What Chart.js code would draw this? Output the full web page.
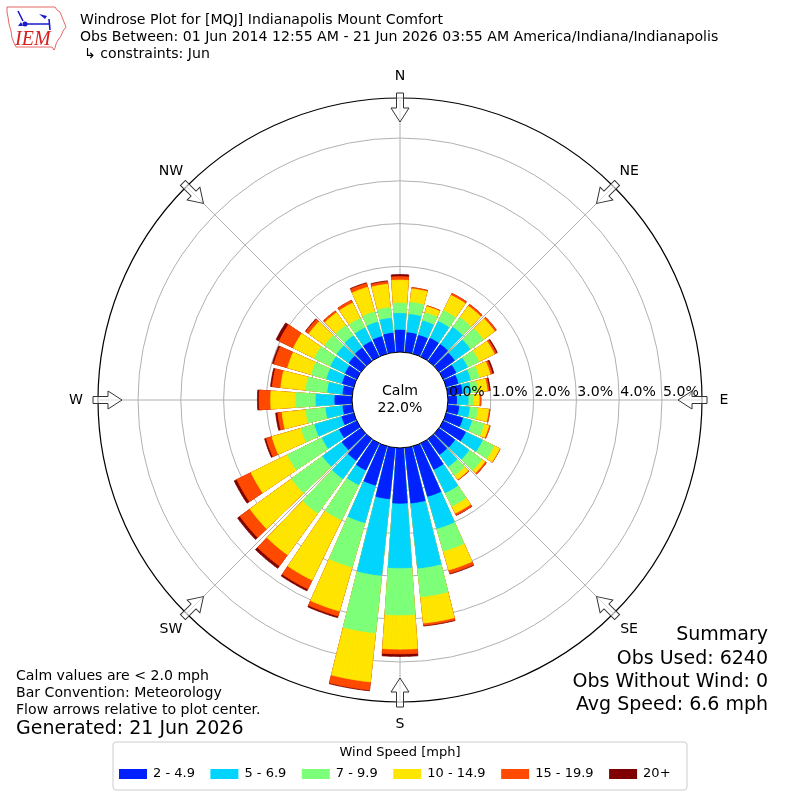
<!DOCTYPE html>
<html>
<head>
<meta charset="utf-8">
<title>Windrose MQJ</title>
<script src="https://cdn.jsdelivr.net/npm/chart.js@4.4.1/dist/chart.umd.min.js"></script>
<style>
  html, body { margin: 0; padding: 0; background: #ffffff; }
  #wrap { width: 800px; height: 800px; }
</style>
</head>
<body>
<div id="wrap"><canvas id="rose" width="800" height="800"></canvas></div>
<script>
// Direction bins (degrees clockwise from north), each bar covers +-4 deg
const directions = [0, 10, 20, 30, 40, 50, 60, 70, 80, 90, 100, 110, 120, 130, 140, 150, 160, 170,
  180, 190, 200, 210, 220, 230, 240, 250, 260, 270, 280, 290, 300, 310, 320, 330, 340, 350];

const speedLabels = ["2 - 4.9", "5 - 6.9", "7 - 9.9", "10 - 14.9", "15 - 19.9", "20+"];
const speedColors = ["#0020ff", "#00d4ff", "#7cff79", "#ffe600", "#ff4a00", "#7f0000"];

// percent of all observations, per direction, for each speed bin
const spd2to5 = [0.51, 0.46, 0.45, 0.48, 0.48, 0.45, 0.33, 0.29, 0.34, 0.20, 0.26, 0.40,
  0.58, 0.46, 0.45, 0.68, 1.22, 1.30, 1.29, 1.20, 0.95, 0.70, 0.62, 0.55,
  0.45, 0.29, 0.22, 0.40, 0.22, 0.28, 0.30, 0.35, 0.38, 0.40, 0.42, 0.45];
const spd5to7 = [0.39, 0.43, 0.35, 0.44, 0.50, 0.45, 0.30, 0.30, 0.20, 0.27, 0.25, 0.22,
  0.44, 0.41, 0.35, 0.61, 0.78, 1.53, 1.51, 1.80, 0.91, 0.38, 0.53, 0.56,
  0.45, 0.66, 0.40, 0.44, 0.36, 0.38, 0.38, 0.35, 0.35, 0.35, 0.35, 0.35];
const spd7to10 = [0.24, 0.28, 0.20, 0.28, 0.28, 0.38, 0.30, 0.21, 0.16, 0.12, 0.19, 0.30,
  0.30, 0.37, 0.25, 0.35, 0.55, 0.67, 1.10, 1.35, 1.08, 0.92, 1.00, 0.90,
  0.90, 0.33, 0.47, 0.47, 0.51, 0.37, 0.42, 0.35, 0.30, 0.25, 0.25, 0.25];
const spd10to15 = [0.54, 0.32, 0.15, 0.40, 0.33, 0.33, 0.40, 0.27, 0.23, 0.14, 0.26, 0.12,
  0.15, 0.09, 0.12, 0.18, 0.46, 0.62, 0.80, 1.15, 1.07, 1.56, 1.20, 1.20,
  0.95, 0.71, 0.56, 0.59, 0.59, 0.58, 0.55, 0.46, 0.37, 0.40, 0.60, 0.55];
const spd15to20 = [0.08, 0.03, 0.02, 0.05, 0.05, 0.05, 0.05, 0.05, 0.04, 0.04, 0.03, 0.03,
  0.01, 0.04, 0.02, 0.05, 0.08, 0.05, 0.11, 0.19, 0.12, 0.23, 0.32, 0.29,
  0.37, 0.14, 0.10, 0.27, 0.20, 0.33, 0.37, 0.08, 0.05, 0.07, 0.09, 0.06];
const spd20up = [0.05, 0.00, 0.00, 0.00, 0.00, 0.00, 0.03, 0.04, 0.03, 0.00, 0.00, 0.00,
  0.00, 0.00, 0.00, 0.01, 0.02, 0.02, 0.06, 0.02, 0.04, 0.05, 0.07, 0.07,
  0.07, 0.04, 0.05, 0.04, 0.04, 0.04, 0.08, 0.02, 0.00, 0.00, 0.02, 0.02];

const calmPct = 22.0;
const ringTicks = [0, 1, 2, 3, 4, 5];
const compassNames = ["N", "NE", "E", "SE", "S", "SW", "W", "NW"];

// radial axis: 0% sits on the calm circle, outer frame a bit past 5.9%
const rMin = -1.12;
const rMax = 5.935;

const SLOTS = 10; // one degree slots per 10 degree bin
const BAR = 8;    // slots covered by a bar, the rest is the gap

const FONT = "DejaVu Sans";
const SMALL = 14.1;

const bins = [spd2to5, spd5to7, spd7to10, spd10to15, spd15to20, spd20up];

// one label per degree slot
const slotLabels = [];
directions.forEach((d) => {
  for (let j = 0; j < SLOTS; j++) slotLabels.push(d - BAR / 2 + j);
});

// stacked bars: every dataset holds the running total, smaller ones paint on top
const cumulative = bins.map((_, i) =>
  directions.map((d, k) => bins.slice(0, i + 1).reduce((s, b) => s + b[k], 0))
);

const isBar = (n) => n % SLOTS < BAR;

const datasets = cumulative.map((vals, i) => ({
  label: speedLabels[i],
  data: slotLabels.map((_, n) => (isBar(n) ? vals[Math.floor(n / SLOTS)] : 0)),
  backgroundColor: (ctx) => (isBar(ctx.dataIndex) ? speedColors[i] : "rgba(0,0,0,0)"),
  borderColor: (ctx) => (isBar(ctx.dataIndex) ? speedColors[i] : "rgba(0,0,0,0)"),
  borderWidth: (ctx) => (isBar(ctx.dataIndex) ? 0.8 : 0),
}));

function drawArrow(ctx, xc, yc, deg, R) {
  const rTail = R + 5, rNeck = R - 10, rTip = R - 24;
  const hs = 3.5, hh = 9;
  ctx.save();
  ctx.translate(xc, yc);
  ctx.rotate((deg * Math.PI) / 180);
  ctx.beginPath();
  ctx.moveTo(-hs, -rTail);
  ctx.lineTo(hs, -rTail);
  ctx.lineTo(hs, -rNeck);
  ctx.lineTo(hh, -rNeck);
  ctx.lineTo(0, -rTip);
  ctx.lineTo(-hh, -rNeck);
  ctx.lineTo(-hs, -rNeck);
  ctx.closePath();
  ctx.fillStyle = "rgba(255,255,255,0.6)";
  ctx.fill();
  ctx.strokeStyle = "#333333";
  ctx.lineWidth = 1;
  ctx.stroke();
  ctx.restore();
}

function drawLogo(ctx) {
  const iowa = [[7, 7], [55, 7], [57, 10], [60, 12], [62, 17], [64, 22], [66, 27], [63, 31], [61, 36],
    [58, 40], [56, 44], [55, 48], [54, 50], [52, 47], [16, 47], [14, 43], [12, 38], [11, 31],
    [9, 24], [8, 17], [7, 12]];
  ctx.save();
  ctx.beginPath();
  iowa.forEach(([x, y], i) => (i ? ctx.lineTo(x, y) : ctx.moveTo(x, y)));
  ctx.closePath();
  ctx.strokeStyle = "#e04040";
  ctx.lineWidth = 0.8;
  ctx.stroke();
  // little station plot
  ctx.strokeStyle = "#1a1acc";
  ctx.fillStyle = "#1a1acc";
  ctx.lineWidth = 1.6;
  ctx.beginPath();
  ctx.moveTo(25, 24);
  ctx.lineTo(50, 24);
  ctx.moveTo(18, 11);
  ctx.lineTo(23, 21);
  ctx.moveTo(49, 19);
  ctx.lineTo(50, 30);
  ctx.stroke();
  ctx.beginPath();
  ctx.arc(25, 24, 2.5, 0, Math.PI * 2);
  ctx.fill();
  ctx.beginPath();
  ctx.moveTo(39, 14);
  ctx.lineTo(47, 16);
  ctx.lineTo(45, 19);
  ctx.closePath();
  ctx.fill();
  ctx.beginPath();
  ctx.moveTo(18, 26);
  ctx.lineTo(21, 22);
  ctx.lineTo(23, 26);
  ctx.closePath();
  ctx.fill();
  ctx.fillStyle = "#d42020";
  ctx.font = "italic 20px 'Liberation Serif'";
  ctx.textAlign = "left";
  ctx.textBaseline = "alphabetic";
  ctx.fillText("IEM", 15, 45);
  ctx.restore();
}

function drawLegend(ctx) {
  const left = 113, top = 742, right = 687, bottom = 790;
  ctx.save();
  ctx.beginPath();
  ctx.roundRect(left, top, right - left, bottom - top, 3);
  ctx.fillStyle = "#ffffff";
  ctx.fill();
  ctx.strokeStyle = "#cccccc";
  ctx.lineWidth = 1;
  ctx.stroke();
  ctx.fillStyle = "#000000";
  ctx.font = `13px '${FONT}'`;
  ctx.textAlign = "center";
  ctx.textBaseline = "middle";
  ctx.fillText("Wind Speed [mph]", 400, 753);
  ctx.textAlign = "left";
  let x = 119;
  speedLabels.forEach((lab, i) => {
    ctx.fillStyle = speedColors[i];
    ctx.fillRect(x, 769, 28, 10);
    ctx.fillStyle = "#000000";
    ctx.fillText(lab, x + 34, 774);
    x += 34 + ctx.measureText(lab).width + 15.5;
  });
  ctx.restore();
}

const overlayPlugin = {
  id: "roseOverlay",
  afterDraw(chart) {
    const ctx = chart.ctx;
    const scale = chart.scales.r;
    const xc = scale.xCenter, yc = scale.yCenter;
    const r0 = scale.getDistanceFromCenterForValue(0);
    const R = scale.getDistanceFromCenterForValue(rMax);

    ctx.save();
    // calm circle
    ctx.beginPath();
    ctx.arc(xc, yc, r0, 0, Math.PI * 2);
    ctx.fillStyle = "#ffffff";
    ctx.fill();
    ctx.strokeStyle = "#000000";
    ctx.lineWidth = 1;
    ctx.stroke();
    ctx.fillStyle = "#000000";
    ctx.font = `${SMALL}px '${FONT}'`;
    ctx.textAlign = "center";
    ctx.textBaseline = "middle";
    ctx.fillText("Calm", xc, yc - 9);
    ctx.fillText(calmPct.toFixed(1) + "%", xc, yc + 8);

    // ring labels along the east axis
    ctx.textAlign = "left";
    ctx.textBaseline = "alphabetic";
    ringTicks.forEach((v) => {
      const d = scale.getDistanceFromCenterForValue(v);
      ctx.fillText(v.toFixed(1) + "%", xc + d + 1, yc - 4);
    });

    // flow arrows and compass names
    compassNames.forEach((name, i) => {
      const deg = i * 45;
      drawArrow(ctx, xc, yc, deg, R);
      const a = (deg * Math.PI) / 180;
      ctx.fillStyle = "#000000";
      ctx.textAlign = "center";
      ctx.textBaseline = "middle";
      ctx.fillText(name, xc + (R + 22) * Math.sin(a), yc - (R + 22) * Math.cos(a));
    });

    // header
    drawLogo(ctx);
    ctx.fillStyle = "#000000";
    ctx.textAlign = "left";
    ctx.textBaseline = "middle";
    ctx.font = `${SMALL}px '${FONT}'`;
    ctx.fillText("Windrose Plot for [MQJ] Indianapolis Mount Comfort", 80, 20);
    ctx.fillText("Obs Between: 01 Jun 2014 12:55 AM - 21 Jun 2026 03:55 AM America/Indiana/Indianapolis", 80, 37);
    ctx.fillText("\u21b3 constraints: Jun", 84, 54);

    // notes, bottom left
    ctx.fillText("Calm values are < 2.0 mph", 16, 676);
    ctx.fillText("Bar Convention: Meteorology", 16, 693);
    ctx.fillText("Flow arrows relative to plot center.", 16, 710);
    ctx.font = `19px '${FONT}'`;
    ctx.fillText("Generated: 21 Jun 2026", 16, 729);

    // summary, bottom right
    ctx.textAlign = "right";
    ctx.fillText("Summary", 768, 635);
    ctx.fillText("Obs Used: 6240", 768, 659);
    ctx.fillText("Obs Without Wind: 0", 768, 682);
    ctx.fillText("Avg Speed: 6.6 mph", 768, 705);

    drawLegend(ctx);
    ctx.restore();
  },
};

new Chart(document.getElementById("rose"), {
  type: "polarArea",
  data: { labels: slotLabels, datasets },
  options: {
    responsive: false,
    animation: false,
    layout: { padding: 98 },
    plugins: {
      legend: { display: false },
      tooltip: { enabled: false },
    },
    scales: {
      r: {
        min: rMin,
        max: rMax,
        startAngle: -BAR / 2,
        z: 1,
        ticks: { display: false },
        afterBuildTicks: (s) => {
          s.ticks = [...ringTicks, rMax].map((v) => ({ value: v }));
        },
        grid: {
          circular: true,
          color: (ctx) => (ctx.tick.value === rMax ? "#000000" : "#b0b0b0"),
          lineWidth: (ctx) => (ctx.tick.value === 0 ? 0 : ctx.tick.value === rMax ? 1.2 : 1),
        },
        angleLines: {
          display: true,
          color: "#b0b0b0",
          lineWidth: (ctx) => ((ctx.index - BAR / 2) % 45 === 0 ? 1 : 0),
        },
        pointLabels: { display: false },
      },
    },
  },
  plugins: [overlayPlugin],
});
</script>
</body>
</html>
